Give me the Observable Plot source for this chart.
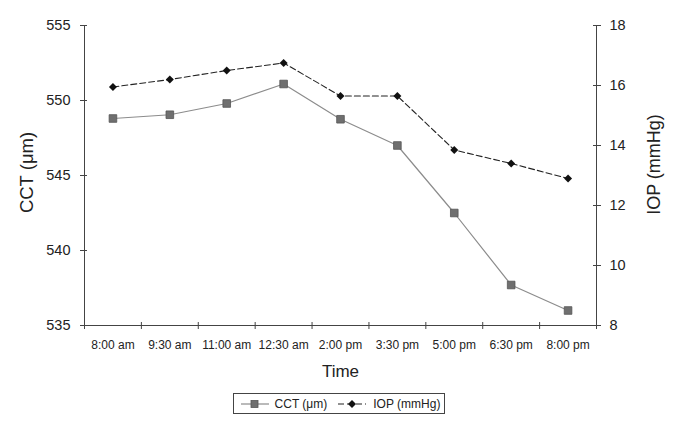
<!DOCTYPE html>
<html>
<head>
<meta charset="utf-8">
<script src="https://cdn.jsdelivr.net/npm/d3@7"></script>
<script src="https://cdn.jsdelivr.net/npm/@observablehq/plot@0.6"></script>
<style>
  html, body { margin: 0; padding: 0; background: #fff; }
  body { width: 676px; font-family: "Liberation Sans", Arial, sans-serif; }
  #legend { display: flex; justify-content: center; margin-top: 3px; padding-left: 2px; }
  #legend .box { border: 1px solid #444; display: flex; align-items: center; height: 19px; padding: 0 4px 0 6px; font-size: 12px; color: #222; }
  #legend svg { display: block; }
</style>
</head>
<body>
<div id="chart"></div>
<div id="legend"></div>
<script>
const times = ["8:00 am","9:30 am","11:00 am","12:30 am","2:00 pm","3:30 pm","5:00 pm","6:30 pm","8:00 pm"];
const cct = [548.8, 549.05, 549.8, 551.1, 548.75, 547.0, 542.5, 537.7, 536.0];
const iop = [15.95, 16.2, 16.5, 16.75, 15.65, 15.65, 13.85, 13.4, 12.9];
const cctTicks = [535, 540, 545, 550, 555];
const iopTicks = [8, 10, 12, 14, 16, 18];

// map IOP onto the CCT scale (8–18 ↔ 535–555)
const toL = v => 535 + (v - 8) * 2;
const fromL = v => Math.round((v - 535) / 2 + 8);

const rowsC = times.map((t, i) => ({x: i + 0.5, y: cct[i]}));
const rowsI = times.map((t, i) => ({x: i + 0.5, y: toL(iop[i])}));
const bounds = d3.range(times.length + 1);

const axisColor = "#444";
const chart = Plot.plot({
  width: 676,
  height: 390,
  marginLeft: 84,
  marginRight: 80,
  marginTop: 25,
  marginBottom: 65,
  style: {fontFamily: "'Liberation Sans', Arial, sans-serif", color: "#222", background: "#fff"},
  x: {domain: [0, times.length], axis: null},
  y: {domain: [535, 555], axis: null},
  marks: [
    // axis lines
    Plot.ruleX([0], {stroke: axisColor}),
    Plot.ruleX([times.length], {stroke: axisColor}),
    Plot.ruleY([535], {stroke: axisColor}),
    // x ticks (crossing)
    Plot.axisX({ticks: bounds, tickFormat: () => "", tickSize: 4, stroke: axisColor, label: null}),
    Plot.ruleX(bounds, {y1: 535, y2: 535, insetTop: -3, insetBottom: 0, stroke: axisColor}),
    Plot.axisX({ticks: d3.range(times.length).map(i => i + 0.5), tickFormat: d => times[Math.round(d - 0.5)], tickSize: 0, tickPadding: 15, fontSize: 12, label: null}),
    // left y axis
    Plot.axisY({anchor: "left", ticks: cctTicks, tickSize: 4, tickPadding: 10, fontSize: 14.5, stroke: axisColor, label: null}),
    Plot.ruleY(cctTicks, {x1: 0, x2: 0, insetLeft: 0, insetRight: -3, stroke: axisColor}),
    // right y axis
    Plot.axisY({anchor: "right", ticks: iopTicks.map(toL), tickFormat: fromL, tickSize: 4, tickPadding: 9, fontSize: 14.5, stroke: axisColor, label: null}),
    Plot.ruleY(iopTicks.map(toL), {x1: times.length, x2: times.length, insetLeft: -3, insetRight: 0, stroke: axisColor}),
    // axis titles
    Plot.text(["CCT (\u03bcm)"], {frameAnchor: "left", textAnchor: "middle", dx: -57, dy: -3, rotate: -90, fontSize: 18.5, fill: "#222"}),
    Plot.text(["IOP (mmHg)"], {frameAnchor: "right", textAnchor: "middle", dx: 58, dy: -11, rotate: -90, fontSize: 18, fill: "#222"}),
    Plot.text(["Time"], {frameAnchor: "bottom", dy: 51, fontSize: 17, fill: "#222"}),
    // series
    Plot.line(rowsC, {x: "x", y: "y", stroke: "#8c8c8c", strokeWidth: 1.2}),
    Plot.dot(rowsC, {x: "x", y: "y", symbol: "square", r: 4.3, fill: "#6f6f6f", stroke: "#555", strokeWidth: 0.8}),
    Plot.line(rowsI, {x: "x", y: "y", stroke: "#222", strokeWidth: 1.1, strokeDasharray: "6,3"}),
    Plot.dot(rowsI, {x: "x", y: "y", symbol: "diamond2", r: 3.6, fill: "#111", stroke: "none"})
  ]
});
document.getElementById("chart").appendChild(chart);

// legend
const legend = document.getElementById("legend");
legend.innerHTML = `<div class="box">
  <svg width="30" height="12"><line x1="1" x2="29" y1="6" y2="6" stroke="#8c8c8c" stroke-width="1.2"/><rect x="11" y="2.5" width="7" height="7" fill="#6f6f6f" stroke="#555" stroke-width="0.8"/></svg>
  <span style="margin:0 10px 0 5px">CCT (\u03bcm)</span>
  <svg width="30" height="12"><line x1="1" x2="29" y1="6" y2="6" stroke="#222" stroke-width="1.1" stroke-dasharray="6,3"/><path d="M15,2 L19,6 L15,10 L11,6 Z" fill="#111"/></svg>
  <span style="margin-left:6px">IOP (mmHg)</span>
</div>`;
</script>
</body>
</html>
